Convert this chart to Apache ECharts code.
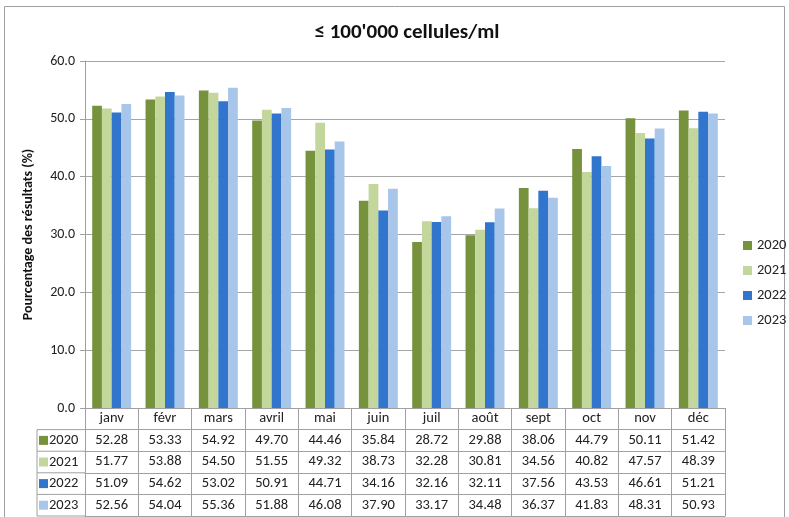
<!DOCTYPE html>
<html><head><meta charset="utf-8">
<script src="https://cdn.jsdelivr.net/npm/echarts@6/dist/echarts.min.js"></script>
<style>html,body{margin:0;padding:0;background:#fff}#c{width:789px;height:517px}</style>
</head><body><div id="c"></div>
<script>
const months = ['janv','févr','mars','avril','mai','juin','juil','août','sept','oct','nov','déc'];
const years = ['2020','2021','2022','2023'];
const v2020 = [52.28,53.33,54.92,49.70,44.46,35.84,28.72,29.88,38.06,44.79,50.11,51.42];
const v2021 = [51.77,53.88,54.50,51.55,49.32,38.73,32.28,30.81,34.56,40.82,47.57,48.39];
const v2022 = [51.09,54.62,53.02,50.91,44.71,34.16,32.16,32.11,37.56,43.53,46.61,51.21];
const v2023 = [52.56,54.04,55.36,51.88,46.08,37.90,33.17,34.48,36.37,41.83,48.31,50.93];
const yTicks = [0,10,20,30,40,50,60];
const colors = ['#76923c','#c3d69b','#3176cc','#a8c5ea'];
const values = [v2020,v2021,v2022,v2023];

const FONT = "Carlito, 'Liberation Sans', 'DejaVu Sans', sans-serif";
const LINE = '#a0a0a0';
const ROW = 21.6;
const TFS = 14.5;
const gridLeft = 85, gridRight = 64, gridTop = 61, gridBottom = 109;
const axisY = 517 - gridBottom;

const xAxes = [{
  type:'category', data: months, position:'bottom', offset:0,
  axisLine:{show:true,onZero:false,lineStyle:{color:LINE}},
  axisTick:{show:true,length:ROW,lineStyle:{color:LINE}},
  axisLabel:{interval:0,margin:3,fontSize:TFS,color:'#222',fontFamily:FONT},
  splitLine:{show:false}
}];
values.forEach((vals,k)=>{
  xAxes.push({
    type:'category', data: vals.map(v=>v.toFixed(2)), position:'bottom', offset: ROW*(k+1),
    axisLine:{show:true,onZero:false,lineStyle:{color:LINE}},
    axisTick:{show:true,length:ROW,lineStyle:{color:LINE}},
    axisLabel:{interval:0,margin:3,fontSize:TFS,color:'#222',fontFamily:FONT},
    splitLine:{show:false}
  });
});
xAxes.push({
  type:'category', data: months, position:'bottom', offset: ROW*5,
  axisLine:{show:true,onZero:false,lineStyle:{color:LINE}},
  axisTick:{show:false}, axisLabel:{show:false}, splitLine:{show:false}
});

const graphics = [
  {type:'rect', shape:{x:4.5,y:6.5,width:780,height:520}, style:{fill:null,stroke:'#a0a0a0',lineWidth:1}, silent:true},
  {type:'line', shape:{x1:37,y1:axisY+ROW,x2:37,y2:axisY+ROW*5}, style:{stroke:LINE,lineWidth:1}}
];
for(let k=1;k<=5;k++){
  graphics.push({type:'line', shape:{x1:37,y1:axisY+ROW*k,x2:gridLeft,y2:axisY+ROW*k}, style:{stroke:LINE,lineWidth:1}});
}
years.forEach((y,k)=>{
  const cy = axisY + ROW*(k+1) + ROW/2;
  graphics.push({type:'rect', shape:{x:39,y:cy-4.5,width:9,height:9}, style:{fill:colors[k]}});
  graphics.push({type:'text', x:49, y:cy, style:{text:y, fontSize:TFS, fill:'#222', fontFamily:FONT, verticalAlign:'middle', align:'left'}});
});

const chart = echarts.init(document.getElementById('c'));
chart.setOption({
  animation:false,
  backgroundColor:'#fff',
  title:{text:"≤ 100'000 cellules/ml", left:402, top:17, textAlign:'center',
    textStyle:{fontSize:21,fontWeight:'bold',color:'#111',fontFamily:FONT}},
  grid:{left:gridLeft,right:gridRight,top:gridTop,bottom:gridBottom,containLabel:false},
  legend:{orient:'vertical', left:738, top:233, padding:5, itemWidth:9, itemHeight:9, itemGap:10,
    icon:'rect', data:years, textStyle:{fontSize:14.5,color:'#222',fontFamily:FONT}},
  xAxis: xAxes,
  yAxis:{type:'value', min:yTicks[0], max:yTicks[yTicks.length-1], interval:10,
    name:'Pourcentage des résultats (%)', nameLocation:'middle', nameGap:50, nameRotate:90,
    nameTextStyle:{fontSize:14,fontWeight:'bold',color:'#111',fontFamily:FONT},
    axisLine:{show:true,lineStyle:{color:LINE}},
    axisTick:{show:true,length:5,lineStyle:{color:LINE}},
    axisLabel:{margin:10,fontSize:14,color:'#222',fontFamily:FONT,formatter:v=>v.toFixed(1)},
    splitLine:{show:true,lineStyle:{color:'#a6a6a6'}}},
  series: years.map((y,k)=>({
    type:'bar', name:y, data:values[k], xAxisIndex:0, barGap:'0%', barCategoryGap:'27%',
    itemStyle:{color:colors[k]}
  })),
  graphic: graphics
});
</script></body></html>
